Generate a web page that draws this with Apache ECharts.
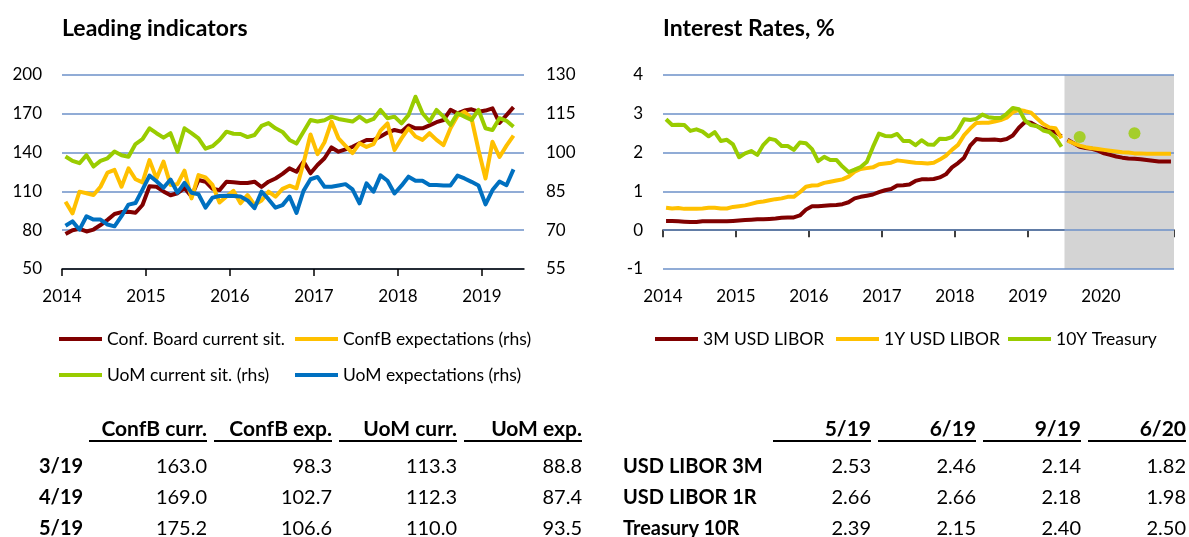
<!DOCTYPE html>
<html>
<head>
<meta charset="utf-8">
<title>Leading indicators / Interest Rates</title>
<script src="https://cdn.jsdelivr.net/npm/echarts@6/dist/echarts.min.js"></script>
<style>
  html, body { margin: 0; padding: 0; background: #fff; }
  #wrap { position: relative; width: 1189px; height: 537px; overflow: hidden; font-family: Lato, sans-serif; color: #000; }
  #chart { position: absolute; left: 0; top: 0; width: 1189px; height: 537px; }
  .tbl div { position: absolute; font-size: 20px; line-height: 24px; height: 24px; white-space: nowrap; }
  .tbl .hd { font-weight: bold; font-size: 21px; text-align: right; border-bottom: 2px solid #000; }
  .tbl .lb { font-weight: bold; }
  .tbl .num { text-align: right; }
</style>
</head>
<body>
<div id="wrap">
  <div id="chart"></div>
  <div id="tblLeft" class="tbl"></div>
  <div id="tblRight" class="tbl"></div>
</div>
<script>
// monthly, Jan 2014 - May 2019
var cbCurrent = [77, 80, 81, 79, 80.5, 84, 88, 92.5, 94, 94.3,
  93.5, 99.5, 114, 113.6, 110, 107, 108.6, 112.6, 106, 118.8,
  117.5, 112, 111, 117.5, 117, 116.5, 116.5, 117.5, 113.4, 117.5,
  120, 123.5, 127.8, 125.2, 133, 124, 130.4, 135.6, 144, 140.7,
  142.5, 144.5, 147.2, 149.7, 149.7, 152.5, 155.5, 157.5, 156.2, 161,
  158.8, 158.8, 161, 163.5, 165.2, 173, 170.4, 172.5, 173.5, 171.6,
  172.5, 174.2, 163.0, 169.0, 175.2];
var cbExpect = [81.0, 76.5, 84.9, 84.3, 83.6, 86.8, 92.3, 93.3, 86.8, 93.9,
  89.7, 88.5, 97.1, 90.0, 96.5, 87.5, 87.8, 93.0, 82.3, 91.3,
  90.4, 87.5, 80.7, 83.0, 85.2, 80.4, 83.6, 79.8, 81.5, 84.9,
  83.0, 86.0, 87.2, 86.2, 95.9, 107.0, 99.4, 104.0, 112.0, 105.5,
  102.6, 99.8, 103.6, 102.2, 103.3, 108.5, 111.3, 101.0, 105.5, 109.4,
  106.2, 104.9, 107.5, 104.9, 102.9, 109.4, 114.2, 115.8, 113.3, 101.0,
  90.0, 104.2, 98.3, 102.7, 106.6];
var uomCurrent = [98.5, 96.8, 95.9, 99.0, 94.6, 96.8, 97.8, 100.4, 99.0, 98.4,
  103.3, 105.2, 109.4, 107.5, 105.8, 107.5, 100.4, 109.4, 107.5, 105.5,
  101.5, 102.5, 104.9, 108.1, 107.3, 107.2, 106.0, 106.8, 110.3, 111.4,
  109.4, 108.0, 104.9, 103.5, 108.1, 112.6, 112.0, 112.5, 113.9, 113.0,
  112.5, 112.0, 113.9, 112.0, 113.0, 116.5, 113.3, 113.9, 111.3, 114.5,
  121.6, 115.2, 112.0, 116.5, 113.9, 110.7, 115.2, 113.9, 112.6, 116.5,
  109.4, 108.7, 113.3, 112.3, 110.0];
var uomExpect = [71.7, 73.4, 70.2, 75.4, 74.1, 74.1, 72.2, 71.5, 75.4, 79.9,
  80.5, 85.7, 91.1, 88.9, 86.4, 89.6, 84.5, 88.3, 84.5, 83.9,
  78.7, 82.6, 83.2, 83.3, 83.2, 83.0, 81.5, 78.5, 84.9, 82.0,
  78.7, 79.7, 83.0, 76.7, 85.2, 89.7, 90.6, 86.8, 86.8, 87.3,
  87.8, 85.8, 80.4, 88.1, 84.9, 91.2, 89.1, 84.2, 87.2, 90.7,
  89.1, 89.1, 87.5, 87.5, 87.3, 87.3, 91.1, 90.0, 88.7, 87.3,
  80.0, 85.5, 88.8, 87.4, 93.5];

// monthly, Jan 2014 - Jun 2019
var libor3m = [0.24, 0.24, 0.23, 0.22, 0.21, 0.21, 0.23, 0.23, 0.23, 0.23, 0.23, 0.24,
  0.25, 0.26, 0.27, 0.28, 0.28, 0.29, 0.30, 0.32, 0.33, 0.33, 0.38, 0.53,
  0.62, 0.62, 0.63, 0.64, 0.65, 0.67, 0.72, 0.82, 0.86, 0.89, 0.92, 0.98,
  1.03, 1.06, 1.15, 1.16, 1.18, 1.27, 1.31, 1.31, 1.32, 1.36, 1.44, 1.62,
  1.73, 1.87, 2.18, 2.35, 2.33, 2.33, 2.34, 2.32, 2.35, 2.44, 2.64, 2.79,
  2.77, 2.68, 2.61, 2.59, 2.53, 2.42];
var libor1y = [0.58, 0.56, 0.57, 0.55, 0.55, 0.55, 0.56, 0.58, 0.58, 0.56, 0.56, 0.60,
  0.62, 0.64, 0.68, 0.72, 0.74, 0.77, 0.80, 0.82, 0.86, 0.86, 0.98, 1.12,
  1.15, 1.16, 1.22, 1.25, 1.28, 1.31, 1.38, 1.51, 1.58, 1.60, 1.62, 1.70,
  1.72, 1.74, 1.80, 1.78, 1.76, 1.74, 1.73, 1.72, 1.74, 1.82, 1.92, 2.07,
  2.20, 2.45, 2.62, 2.76, 2.77, 2.77, 2.80, 2.84, 2.90, 3.04, 3.10, 3.07,
  3.03, 2.88, 2.74, 2.65, 2.63, 2.37];
var treasury10y = [2.86, 2.71, 2.72, 2.71, 2.56, 2.60, 2.54, 2.42, 2.53, 2.30, 2.33, 2.21,
  1.88, 1.98, 2.04, 1.94, 2.20, 2.36, 2.32, 2.17, 2.17, 2.07, 2.26, 2.24,
  2.09, 1.78, 1.89, 1.81, 1.81, 1.64, 1.50, 1.56, 1.63, 1.76, 2.14, 2.49,
  2.43, 2.42, 2.48, 2.30, 2.30, 2.19, 2.32, 2.21, 2.20, 2.36, 2.35, 2.40,
  2.58, 2.86, 2.84, 2.87, 2.98, 2.91, 2.89, 2.89, 3.00, 3.15, 3.12, 2.83,
  2.71, 2.68, 2.57, 2.53, 2.39, 2.15];
// forecast, Jul 2019 - Dec 2020
var libor3mFcst = [2.33, 2.24, 2.15, 2.12, 2.10, 2.05, 1.98, 1.94, 1.90, 1.87, 1.85, 1.84,
  1.83, 1.81, 1.79, 1.77, 1.77, 1.77];
var libor1yFcst = [2.31, 2.24, 2.18, 2.14, 2.11, 2.09, 2.07, 2.05, 2.03, 2.01, 2.00, 1.98,
  1.98, 1.97, 1.97, 1.97, 1.97, 1.97];
var treasuryFcstMonths = ['2019-09', '2020-06'];
var treasuryFcst = [2.40, 2.50];

var leftYears = [2014, 2015, 2016, 2017, 2018, 2019];
var rightYears = [2014, 2015, 2016, 2017, 2018, 2019, 2020];

// tables
var leftCols = ['ConfB curr.', 'ConfB exp.', 'UoM curr.', 'UoM exp.'];
var leftRows = ['3/19', '4/19', '5/19'];
var leftValues = [[163.0, 98.3, 113.3, 88.8], [169.0, 102.7, 112.3, 87.4], [175.2, 106.6, 110.0, 93.5]];
var rightCols = ['5/19', '6/19', '9/19', '6/20'];
var rightRows = ['USD LIBOR 3M', 'USD LIBOR 1R', 'Treasury 10R'];
var rightValues = [[2.53, 2.46, 2.14, 1.82], [2.66, 2.66, 2.18, 1.98], [2.39, 2.15, 2.40, 2.50]];

var START = 2014;
var fcstStart = libor3m.length; // Jul 2019

function monthIdx(s) {
  var p = s.split('-');
  return (parseInt(p[0], 10) - START) * 12 + parseInt(p[1], 10) - 1;
}
// points sit in the middle of each month
function toPoints(arr, offset) {
  return arr.map(function (v, i) { return [i + (offset || 0) + 0.5, v]; });
}
function yearTicks(years) {
  return years.map(function (y) { return (y - START) * 12; });
}

var gridColor = '#6c91c9';
var labelStyle = { color: '#000', fontSize: 17, fontFamily: 'Lato' };
var legendText = { color: '#000', fontSize: 17.5, fontFamily: 'Lato' };

function legendAt(name, left, top) {
  return {
    data: [name], left: left, top: top, icon: 'rect', itemWidth: 43, itemHeight: 4,
    padding: 0, textStyle: legendText, selectedMode: false
  };
}

var xLeftTicks = yearTicks(leftYears);
var xRightTicks = yearTicks(rightYears).concat([(2021 - START) * 12]);
var titleStyle = { fontSize: 23, fontWeight: 'bold', color: '#000' };

var option = {
  animation: false,
  textStyle: { fontFamily: 'Lato' },
  title: [
    { text: 'Leading indicators', left: 62, top: 17, padding: 0, textStyle: titleStyle },
    { text: 'Interest Rates, %', left: 663, top: 17, padding: 0, textStyle: titleStyle }
  ],
  legend: [
    legendAt('Conf. Board current sit.', 59, 330),
    legendAt('ConfB expectations (rhs)', 295, 330),
    legendAt('UoM current sit. (rhs)', 59, 366),
    legendAt('UoM expectations (rhs)', 295, 366),
    legendAt('3M USD LIBOR', 655, 330),
    legendAt('1Y USD LIBOR', 836, 330),
    legendAt('10Y Treasury', 1008, 330)
  ],
  grid: [
    { left: 62, top: 75, width: 462, height: 194 },
    { left: 663, top: 75, width: 511, height: 194 }
  ],
  xAxis: [
    {
      type: 'value', gridIndex: 0, min: 0, max: 66, interval: 12,
      axisLine: { lineStyle: { color: '#000', width: 1.5 } },
      axisTick: { customValues: xLeftTicks, length: 7, lineStyle: { color: '#000', width: 1.5 } },
      axisLabel: Object.assign({ customValues: xLeftTicks, margin: 19, formatter: function (v) { return START + v / 12; } }, labelStyle),
      splitLine: { show: false }
    },
    {
      type: 'value', gridIndex: 1, min: 0, max: 84, interval: 12,
      axisLine: { lineStyle: { color: '#000', width: 1.5 } },
      axisTick: { customValues: xRightTicks, length: 7, lineStyle: { color: '#000', width: 1.5 } },
      axisLabel: Object.assign({ customValues: yearTicks(rightYears), margin: 19, formatter: function (v) { return START + v / 12; } }, labelStyle),
      splitLine: { show: false }
    }
  ],
  yAxis: [
    {
      type: 'value', gridIndex: 0, min: 50, max: 200, interval: 30,
      axisLine: { show: false }, axisTick: { show: false },
      axisLabel: Object.assign({ margin: 20 }, labelStyle),
      splitLine: { lineStyle: { color: gridColor, width: 1.5 } }
    },
    {
      type: 'value', gridIndex: 0, position: 'right', min: 55, max: 130, interval: 15,
      axisLine: { show: false }, axisTick: { show: false },
      axisLabel: Object.assign({ margin: 22 }, labelStyle),
      splitLine: { show: false }
    },
    {
      type: 'value', gridIndex: 1, min: -1, max: 4, interval: 1, z: 2,
      axisLine: { show: false }, axisTick: { show: false },
      axisLabel: Object.assign({ margin: 20 }, labelStyle),
      splitLine: { lineStyle: { color: gridColor, width: 1.5 } }
    }
  ],
  series: []
};

function line(name, data, color, xi, yi) {
  return {
    name: name, type: 'line', data: data, xAxisIndex: xi, yAxisIndex: yi,
    showSymbol: false, symbol: 'none', z: 3,
    lineStyle: { color: color, width: 4, join: 'round' },
    itemStyle: { color: color }
  };
}

var RED = '#800000', YELLOW = '#ffc000', GREEN = '#99cc00', BLUE = '#0070c0';

option.series.push(line('Conf. Board current sit.', toPoints(cbCurrent), RED, 0, 0));
option.series.push(line('ConfB expectations (rhs)', toPoints(cbExpect), YELLOW, 0, 1));
option.series.push(line('UoM current sit. (rhs)', toPoints(uomCurrent), GREEN, 0, 1));
option.series.push(line('UoM expectations (rhs)', toPoints(uomExpect), BLUE, 0, 1));

// forecast shading (kept under the grid lines)
option.series.push({
  type: 'line', xAxisIndex: 1, yAxisIndex: 2, z: 1, silent: true,
  data: toPoints(libor3mFcst, fcstStart), showSymbol: false, symbol: 'none',
  lineStyle: { opacity: 0 },
  markArea: {
    silent: true,
    itemStyle: { color: '#d4d4d4', opacity: 1 },
    data: [[{ xAxis: fcstStart }, { xAxis: (2021 - START) * 12 }]]
  }
});
option.series.push(line('3M USD LIBOR', toPoints(libor3m), RED, 1, 2));
option.series.push(line('1Y USD LIBOR', toPoints(libor1y), YELLOW, 1, 2));
option.series.push(line('10Y Treasury', toPoints(treasury10y), GREEN, 1, 2));
option.series.push(line('3M USD LIBOR', toPoints(libor3mFcst, fcstStart), RED, 1, 2));
option.series.push(line('1Y USD LIBOR', toPoints(libor1yFcst, fcstStart), YELLOW, 1, 2));
option.series.push({
  name: '10Y Treasury', type: 'scatter', xAxisIndex: 1, yAxisIndex: 2, z: 3,
  symbolSize: 12, itemStyle: { color: GREEN },
  data: treasuryFcstMonths.map(function (m, i) { return [monthIdx(m) + 0.5, treasuryFcst[i]]; })
});

var myChart = echarts.init(document.getElementById('chart'));
myChart.setOption(option);

// tables under the charts
function cell(cls, text, left, top, width) {
  var d = document.createElement('div');
  d.className = cls;
  d.textContent = text;
  d.style.left = left + 'px';
  d.style.top = top + 'px';
  if (width) d.style.width = width + 'px';
  return d;
}
function buildTable(el, cols, rows, values, labelX, rights, colW, digits) {
  var headTop = 416, rowTops = [453, 484, 515];
  cols.forEach(function (c, j) {
    el.appendChild(cell('hd', c, rights[j] - colW, headTop, colW));
  });
  rows.forEach(function (r, i) {
    el.appendChild(cell('lb', r, labelX, rowTops[i]));
    values[i].forEach(function (v, j) {
      el.appendChild(cell('num', v.toFixed(digits), rights[j] - colW, rowTops[i], colW));
    });
  });
}
buildTable(document.getElementById('tblLeft'), leftCols, leftRows, leftValues, 39, [207, 332, 457, 582], 118, 1);
buildTable(document.getElementById('tblRight'), rightCols, rightRows, rightValues, 623, [871, 976, 1081, 1186], 98, 2);
</script>
</body>
</html>
